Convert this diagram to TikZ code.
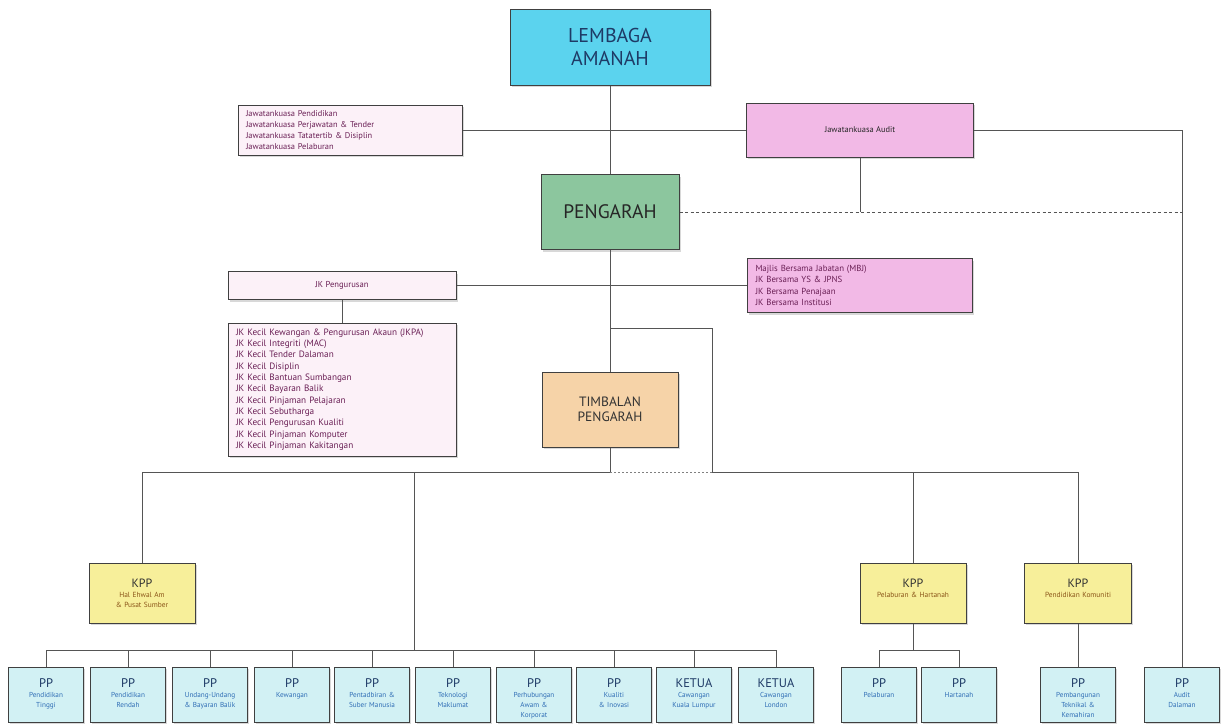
\documentclass[tikz,border=0pt]{standalone}
\usepackage{fontspec}
\setmainfont{PT Sans}
\usetikzlibrary{shadows}
\definecolor{amanahcyan}{HTML}{5BD3EE}
\definecolor{pengarahgreen}{HTML}{8CC69E}
\definecolor{timbalantan}{HTML}{F6D3A8}
\definecolor{jkpink}{HTML}{F2B9E6}
\definecolor{jklight}{HTML}{FCF1F8}
\definecolor{kppyellow}{HTML}{F7EF9A}
\definecolor{ppcyan}{HTML}{D2F1F4}
\definecolor{jktext}{HTML}{6A1F55}
\definecolor{pptext}{HTML}{2F6DB5}
\definecolor{ppnavy}{HTML}{1E3A66}
\definecolor{kpptext}{HTML}{8A5418}
\definecolor{linegray}{HTML}{555555}
\newcommand\pphead{\fontsize{12.5}{12.5}\selectfont\color{ppnavy}}
\newcommand\kpphead{\fontsize{12}{12}\selectfont\color{black!80}}
\tikzset{
  every picture/.style={
    x=1pt, y=-1pt,
    line width=0.7pt
  },
  box/.style={
    draw=black!75, line width=1pt, inner sep=3pt, align=center,
    drop shadow={opacity=0.3, shadow xshift=1.5pt, shadow yshift=-2pt}
  },
  trustee/.style={box, fill=amanahcyan, minimum width=200, minimum height=76,
    font=\fontsize{20}{23}\selectfont, text=ppnavy},
  director/.style={box, fill=pengarahgreen, minimum width=138, minimum height=75,
    font=\fontsize{19.5}{22}\selectfont, text=black!85},
  deputy/.style={box, fill=timbalantan, minimum width=136, minimum height=75,
    font=\fontsize{13.5}{15.5}\selectfont, text=black!80},
  cttee/.style={box, align=left, inner xsep=8pt, text=jktext},
  kppbox/.style={box, fill=kppyellow, text width=100pt, text height=21pt, text depth=33pt,
    font=\fontsize{7.4}{10}\selectfont, text=kpptext},
  ppbox/.style={box, fill=ppcyan, text width=69pt, text height=17pt, text depth=32pt,
    font=\fontsize{7.2}{10}\selectfont, text=pptext},
  conn/.style={draw=linegray, line width=0.7pt}
}
\begin{document}
\begin{tikzpicture}
\path[use as bounding box, fill=white] (0,0) rectangle (1225,724);

\node[trustee] (amanah) at (610,47) {LEMBAGA\\AMANAH};
\node[cttee, fill=jklight, text width=208pt, minimum height=50,
  font=\fontsize{8.4}{10.8}\selectfont] (jkutama) at (350,130)
  {Jawatankuasa Pendidikan\\Jawatankuasa Perjawatan \& Tender\\
   Jawatankuasa Tatatertib \& Disiplin\\Jawatankuasa Pelaburan};
\node[box, fill=jkpink, minimum width=227, minimum height=54,
  font=\fontsize{8.4}{10}\selectfont, text=black!85] (audit) at (860,130) {Jawatankuasa Audit};
\node[director] (pengarah) at (610,212) {PENGARAH};
\node[box, fill=jklight, minimum width=228, minimum height=28,
  font=\fontsize{8.6}{10}\selectfont, text=jktext] (jkpengurusan) at (342,285.5) {JK Pengurusan};
\node[cttee, fill=jkpink, text width=209pt, minimum height=54,
  font=\fontsize{8.8}{11.2}\selectfont] (bersama) at (860,285.5)
  {Majlis Bersama Jabatan (MBJ)\\JK Bersama YS \& JPNS\\JK Bersama Penajaan\\JK Bersama Institusi};
\node[cttee, fill=jklight, text width=212pt, minimum height=133,
  font=\fontsize{9.2}{11.3}\selectfont] (jkkecil) at (342,389.5)
  {JK Kecil Kewangan \& Pengurusan Akaun (JKPA)\\JK Kecil Integriti (MAC)\\
   JK Kecil Tender Dalaman\\JK Kecil Disiplin\\JK Kecil Bantuan Sumbangan\\
   JK Kecil Bayaran Balik\\JK Kecil Pinjaman Pelajaran\\JK Kecil Sebutharga\\
   JK Kecil Pengurusan Kualiti\\JK Kecil Pinjaman Komputer\\JK Kecil Pinjaman Kakitangan};
\node[deputy] (timbalan) at (610,409.5) {TIMBALAN\\PENGARAH};

\node[kppbox] (kppam) at (142,593) {{\kpphead KPP}\\Hal Ehwal Am\\\& Pusat Sumber};
\node[kppbox] (kpplabur) at (913,593) {{\kpphead KPP}\\Pelaburan \& Hartanah};
\node[kppbox, text width=101pt] (kppkomuniti) at (1078,593) {{\kpphead KPP}\\Pendidikan Komuniti};

\foreach \n/\x/\ttl/\sub in {
  1/46/PP/{Pendidikan\\Tinggi},
  2/128/PP/{Pendidikan\\Rendah},
  3/210/PP/{Undang-Undang\\\& Bayaran Balik},
  4/292/PP/{Kewangan},
  5/372/PP/{Pentadbiran \&\\Suber Manusia},
  6/453/PP/{Teknologi\\Maklumat},
  7/534/PP/{Perhubungan\\Awam \&\\Korporat},
  8/614/PP/{Kualiti\\\& Inovasi},
  9/694/KETUA/{Cawangan\\Kuala Lumpur},
  10/776/KETUA/{Cawangan\\London},
  11/879/PP/{Pelaburan},
  12/959/PP/{Hartanah},
  13/1078/PP/{Pembangunan\\Teknikal \&\\Kemahiran},
  14/1182/PP/{Audit\\Dalaman}}
  \node[ppbox] (pp\n) at (\x,694.5) {{\pphead\ttl}\\\sub};

\coordinate (bypass) at (712,328);
\coordinate (mid) at (610,472);
\coordinate (bend) at (712,472);
\coordinate (tap) at (414,472);
\coordinate (rowbus) at (414,650);
\coordinate (labursplit) at (913,650);

\begin{scope}[conn]
\draw (amanah.south) -- (pengarah.north);
\draw (jkutama.east) -- (audit.west);
\draw (audit.east) -| (pp14.north);
\draw (audit.south) -- (audit.south |- pengarah.east);
\draw[dash pattern=on 3pt off 2.5pt] (pengarah.east) -- (pengarah.east -| pp14.north);
\draw (pengarah.south) -- (timbalan.north);
\draw (jkpengurusan.east) -- (bersama.west);
\draw (jkpengurusan.south) -- (jkkecil.north);
\draw (pengarah.south |- bypass) -- (bypass) -- (bend);
\draw (timbalan.south) -- (mid);
\draw[draw=gray, dash pattern=on 2pt off 2pt] (mid) -- (bend);
\draw (kppam.north) |- (mid);
\draw (bend) -| (kppkomuniti.north);
\draw (kpplabur.north) -- (kpplabur.north |- bend);
\draw (tap) -- (rowbus);
\draw (pp1.north |- rowbus) -- (pp10.north |- rowbus);
\foreach \i in {1,...,10}
  \draw (pp\i.north) -- (pp\i.north |- rowbus);
\draw (kpplabur.south) -- (labursplit);
\draw (pp11.north) |- (labursplit) -| (pp12.north);
\draw (kppkomuniti.south) -- (pp13.north);
\end{scope}
\end{tikzpicture}
\end{document}
